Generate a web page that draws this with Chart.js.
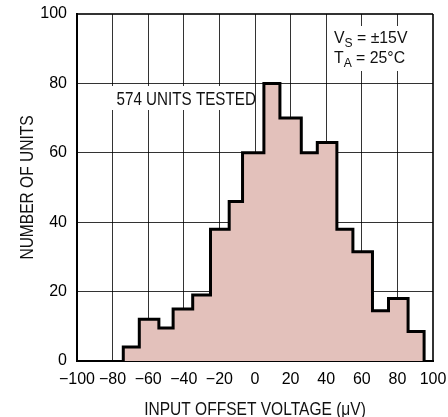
<!DOCTYPE html>
<html><head><meta charset="utf-8">
<script src="https://cdn.jsdelivr.net/npm/chart.js@4.4.0/dist/chart.umd.min.js"></script>
<style>html,body{margin:0;padding:0;background:#fff;} #wrap{width:448px;height:417px;position:relative;}</style>
</head><body><div id="wrap"><canvas id="c"></canvas></div>
<script>
// Histogram bin edges (µV) and unit counts per bin
const binEdges = [-74, -65, -54, -46, -35, -25, -14.5, -7, 5, 14, 26, 35, 46, 55, 66, 75, 86, 95];
const unitCounts = [4, 12, 9.5, 15, 19, 38, 46, 60, 80, 70, 60, 63, 38, 31.5, 14.5, 18, 8.5];
const xTickValues = [-100, -80, -60, -40, -20, 0, 20, 40, 60, 80, 100];
const yTickValues = [0, 20, 40, 60, 80, 100];
const xTitle = 'INPUT OFFSET VOLTAGE (\u03BCV)';
const yTitle = 'NUMBER OF UNITS';
const noteUnits = '574 UNITS TESTED';

// Build the stepped outline points from the bins
const outline = [{x: binEdges[0], y: 0}];
for (let i = 0; i < unitCounts.length; i++) {
  outline.push({x: binEdges[i], y: unitCounts[i]});
  outline.push({x: binEdges[i + 1], y: unitCounts[i]});
}
outline.push({x: binEdges[binEdges.length - 1], y: 0});

const FONT = '"Liberation Sans", Arial, sans-serif';
const fmt = v => (v < 0 ? '\u2212' + Math.abs(v) : String(v));

// draw horizontally condensed text (emulates a condensed face)
function condText(ctx, text, x, y, size, squeeze, align, rot) {
  ctx.save();
  ctx.translate(x, y);
  if (rot) ctx.rotate(rot);
  ctx.scale(squeeze, 1);
  ctx.font = size + 'px ' + FONT;
  ctx.textAlign = align || 'left';
  ctx.textBaseline = 'alphabetic';
  ctx.fillText(text, 0, 0);
  const w = ctx.measureText(text).width * squeeze;
  ctx.restore();
  return w;
}

const notes = {
  id: 'notes',
  afterDraw(chart) {
    const ctx = chart.ctx;
    const a = chart.chartArea;
    ctx.save();
    ctx.fillStyle = '#111';
    // axis titles
    condText(ctx, xTitle, (a.left + a.right) / 2, 415, 18.5, 0.84, 'center');
    condText(ctx, yTitle, 33, (a.top + a.bottom) / 2, 18.5, 0.84, 'center', -Math.PI / 2);
    // 574 UNITS TESTED
    ctx.fillStyle = '#fff';
    ctx.fillRect(112, 86, 143, 24);
    ctx.fillStyle = '#111';
    condText(ctx, noteUnits, 116.5, 104.7, 19, 0.8, 'left');
    // Conditions box
    ctx.fillStyle = '#fff';
    ctx.fillRect(327, 26, 104, 45);
    ctx.fillStyle = '#111';
    const lines = [['V', 'S', ' = \u00B115V', 42.5], ['T', 'A', ' = 25\u00B0C', 63.3]];
    for (const [m, sub, rest, base] of lines) {
      let x = 334;
      x += condText(ctx, m, x, base, 17, 0.93, 'left');
      x += condText(ctx, sub, x, base + 4, 13, 0.93, 'left');
      condText(ctx, rest, x, base, 17, 0.93, 'left');
    }
    ctx.restore();
  }
};

new Chart(document.getElementById('c'), {
  type: 'line',
  data: {
    datasets: [{
      data: outline,
      fill: 'origin',
      backgroundColor: '#e3c1bb',
      borderColor: '#000',
      borderWidth: 3,
      borderJoinStyle: 'miter',
      pointRadius: 0,
      tension: 0
    }]
  },
  options: {
    responsive: true,
    maintainAspectRatio: false,
    animation: false,
    devicePixelRatio: 1,
    layout: {padding: {left: 0, top: 14, right: 15, bottom: 0}},
    plugins: {legend: {display: false}, tooltip: {enabled: false}},
    scales: {
      x: {
        type: 'linear', min: -100, max: 100, z: 1,
        afterBuildTicks: s => { s.ticks = xTickValues.map(v => ({value: v})); },
        afterFit: s => { s.height = 56; s.paddingLeft = 0; s.paddingRight = 0; },
        ticks: {callback: fmt, color: '#000', font: {family: FONT, size: 16}, padding: 9, maxRotation: 0, autoSkip: false},
        grid: {color: 'rgba(0,0,0,0.8)', lineWidth: c => (c.index === xTickValues.length - 1 ? 2 : 1), drawTicks: false},
        border: {display: true, color: '#000', width: 2},
        title: {display: false}
      },
      y: {
        type: 'linear', min: 0, max: 100, z: 1,
        afterBuildTicks: s => { s.ticks = yTickValues.map(v => ({value: v})); },
        afterFit: s => { s.width = 77; s.paddingTop = 0; s.paddingBottom = 0; },
        ticks: {callback: fmt, color: '#000', font: {family: FONT, size: 16}, padding: 10},
        grid: {color: 'rgba(0,0,0,0.8)', lineWidth: c => (c.index === yTickValues.length - 1 ? 2 : 1), drawTicks: false},
        border: {display: true, color: '#000', width: 2},
        title: {display: false}
      }
    }
  },
  plugins: [notes]
});
</script>
</body></html>
